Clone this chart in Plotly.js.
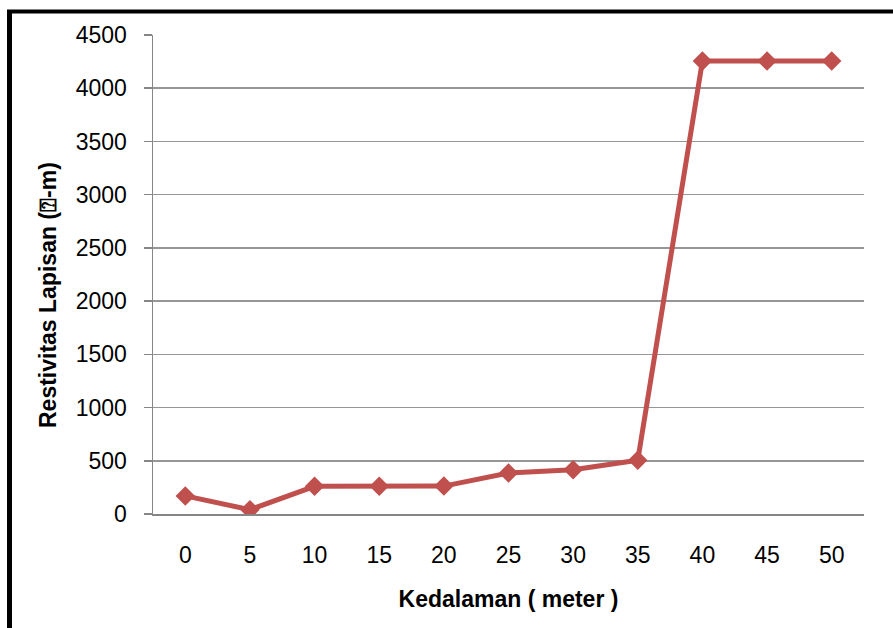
<!DOCTYPE html>
<html>
<head>
<meta charset="utf-8">
<script src="https://cdn.plot.ly/plotly-3.0.1.min.js"></script>
<style>
html,body{margin:0;padding:0;background:#fff;}
#chart{width:893px;height:628px;}
</style>
</head>
<body>
<div id="chart"></div>
<script>
const depths = ["0","5","10","15","20","25","30","35","40","45","50"];
const resistivity = [170, 40, 260, 260, 262, 385, 415, 505, 4255, 4255, 4255];
const yTicks = [0,500,1000,1500,2000,2500,3000,3500,4000,4500];
const xTitle = "Kedalaman ( meter )";
const yTitle = "Restivitas Lapisan (⍰-m)";

const trace = {
  x: depths,
  y: resistivity,
  type: "scatter",
  mode: "lines+markers",
  line: {color: "#C0504D", width: 5},
  marker: {symbol: "diamond", size: 15, color: "#C0504D"},
  hoverinfo: "x+y"
};

const titleFont = {family: "Liberation Sans, Arial, sans-serif", size: 23, color: "#000", weight: "bold"};
const tickFont = {family: "Liberation Sans, Arial, sans-serif", size: 23, color: "#000"};

const layout = {
  width: 893, height: 628,
  margin: {l: 153, r: 29, t: 35, b: 114},
  paper_bgcolor: "#fff",
  plot_bgcolor: "#fff",
  showlegend: false,
  xaxis: {
    type: "category",
    range: [-0.5, 10.5],
    showgrid: false,
    showline: true,
    linecolor: "#868686",
    linewidth: 1.5,
    ticks: "",
    tickfont: tickFont,
    ticklabelstandoff: 20,
    zeroline: false,
    automargin: false,
    title: {text: xTitle, font: titleFont, standoff: 24}
  },
  yaxis: {
    range: [0, 4500],
    tickvals: yTicks,
    ticktext: yTicks.map(String),
    showgrid: true,
    gridcolor: "#969696",
    gridwidth: 1.5,
    showline: true,
    linecolor: "#868686",
    linewidth: 1.5,
    ticks: "outside",
    ticklen: 8,
    tickcolor: "#868686",
    tickwidth: 1.5,
    tickfont: tickFont,
    ticklabelstandoff: 12,
    zeroline: false,
    automargin: false
  },
  annotations: [
    {text: yTitle, xref: "paper", yref: "paper",
     x: (48 - 153) / 711, y: (514 - 295) / 479,
     xanchor: "center", yanchor: "middle",
     textangle: -90, showarrow: false, font: titleFont}
  ],
  shapes: [
    {type: "line", xref: "paper", yref: "paper",
     x0: (9.5 - 153) / 711, x1: (9.5 - 153) / 711,
     y0: (514 - 11) / 479, y1: (514 - 640) / 479,
     line: {color: "#000", width: 5}},
    {type: "line", xref: "paper", yref: "paper",
     x0: (7 - 153) / 711, x1: (900 - 153) / 711,
     y0: (514 - 11.5) / 479, y1: (514 - 11.5) / 479,
     line: {color: "#000", width: 4}}
  ]
};

Plotly.newPlot("chart", [trace], layout, {displayModeBar: false, staticPlot: true});
</script>
</body>
</html>
